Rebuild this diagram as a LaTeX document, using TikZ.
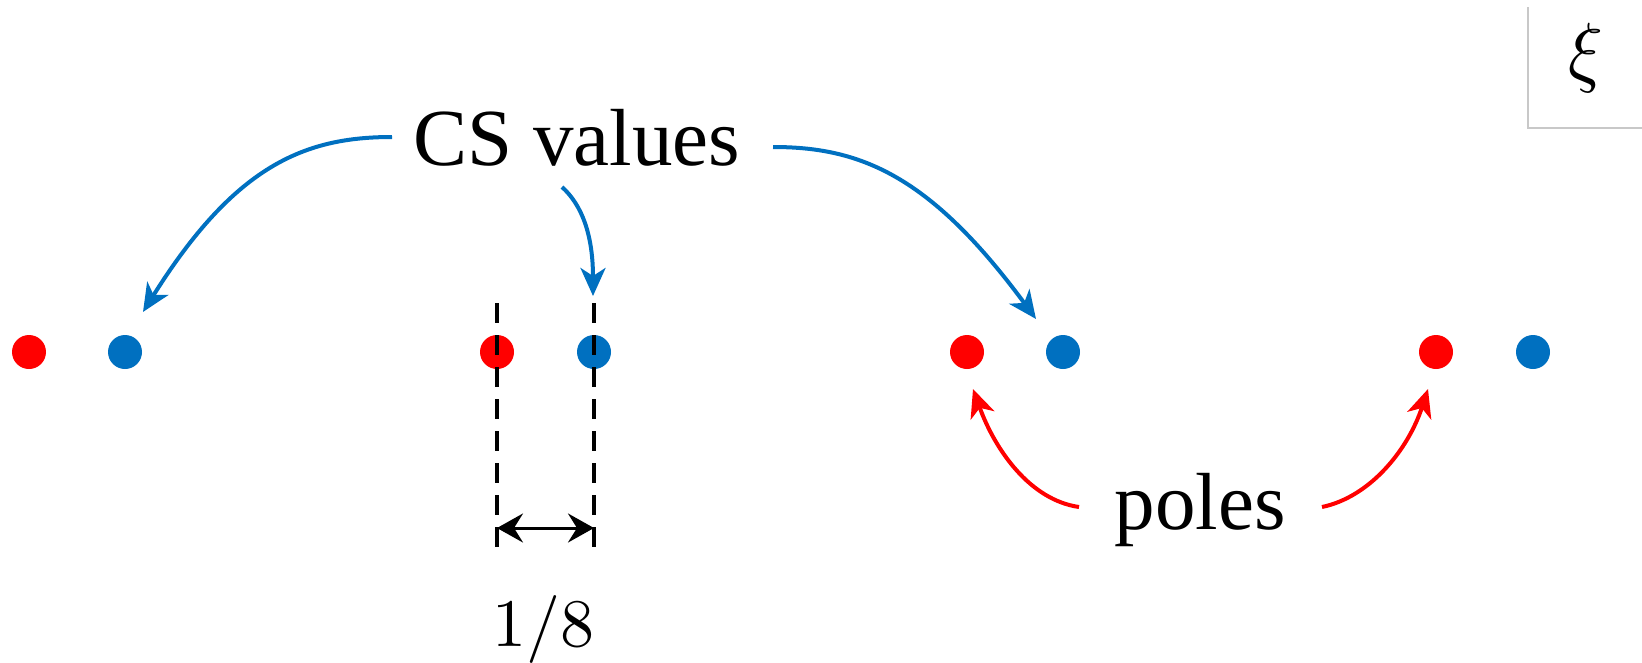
\documentclass[tikz,border=0pt]{standalone}
\usepackage{graphicx}
\usepackage{fontspec}
\newfontfamily\labelfont{Liberation Serif}
\usetikzlibrary{arrows.meta}
\definecolor{csblue}{RGB}{0,112,192}
\definecolor{polered}{RGB}{255,0,0}
\definecolor{framegray}{RGB}{200,200,200}
\tikzset{
  dot/.style={circle, inner sep=0pt, minimum size=34pt},
  reddot/.style={dot, fill=polered},
  bluedot/.style={dot, fill=csblue},
  bigword/.style={anchor=base, inner sep=0pt, font=\labelfont\fontsize{81}{90}\selectfont},
  mathword/.style={anchor=base, inner sep=0pt},
  csarrow/.style={draw=csblue, line width=4pt, -{Stealth[length=28pt,width=25pt,inset=8pt]}},
  polearrow/.style={draw=polered, line width=4pt, -{Stealth[length=28pt,width=25pt,inset=8pt]}},
  guide/.style={draw=black, line width=4pt, dash pattern=on 20pt off 12pt},
  spanarrow/.style={draw=black, line width=3pt, {Stealth[length=26pt,width=29pt,inset=9pt]}-{Stealth[length=26pt,width=29pt,inset=9pt]}},
}
\begin{document}
\begin{tikzpicture}[x=1pt,y=-1pt]
\useasboundingbox (0,0) rectangle (1642,662);

% corner frame with the variable
\coordinate (frtop) at (1528,7);
\coordinate (frcorner) at (1528,128);
\coordinate (frright) at (1642,128);
\draw[framegray, line width=2pt] (frtop) -- (frcorner) -- (frright);
\node[mathword] (xi) at (1586,77) {\scalebox{7.2}[7.8]{$\xi$}};

% pairs of poles (red) and CS values (blue)
\node[reddot]  (r1) at (29,352) {};
\node[bluedot] (b1) at (125,352) {};
\node[reddot]  (r2) at (497,352) {};
\node[bluedot] (b2) at (594,352) {};
\node[reddot]  (r3) at (967,352) {};
\node[bluedot] (b3) at (1063,352) {};
\node[reddot]  (r4) at (1436,352) {};
\node[bluedot] (b4) at (1533,352) {};

% spacing marker between one pair
\coordinate (g1top) at (497,303);
\coordinate (g1bot) at (497,551);
\coordinate (g2top) at (594,303);
\coordinate (g2bot) at (594,551);
\draw[guide] (g1top) -- (g1bot);
\draw[guide] (g2top) -- (g2bot);
\coordinate (sl) at (497,528);
\coordinate (sr) at (594,528);
\draw[spanarrow] (sl) -- (sr);
\node[mathword] (frac) at (543,646) {\scalebox{6.8}{$1/8$}};

% labels
\node[bigword] (cs) at (577,165) {CS values};
\node[bigword] (poles) at (1200,529) {poles};

% arrows from the CS label
\coordinate (csl) at (392,137);
\coordinate (csm) at (562,187);
\coordinate (csr) at (773,147);
\coordinate (t1) at (143,312);
\coordinate (t2) at (593,296);
\coordinate (t3) at (1036,319);
\draw[csarrow] (csl) .. controls (305,137) and (235,165) .. (t1);
\draw[csarrow] (csm) .. controls (582,205) and (593,235) .. (t2);
\draw[csarrow] (csr) .. controls (860,147) and (930,175) .. (t3);

% arrows from the poles label
\coordinate (pl) at (1079,507);
\coordinate (pr) at (1322,507);
\coordinate (t4) at (973,389);
\coordinate (t5) at (1428,389);
\draw[polearrow] (pl) .. controls (1030,500) and (995,450) .. (t4);
\draw[polearrow] (pr) .. controls (1370,497) and (1408,450) .. (t5);
\end{tikzpicture}
\end{document}
